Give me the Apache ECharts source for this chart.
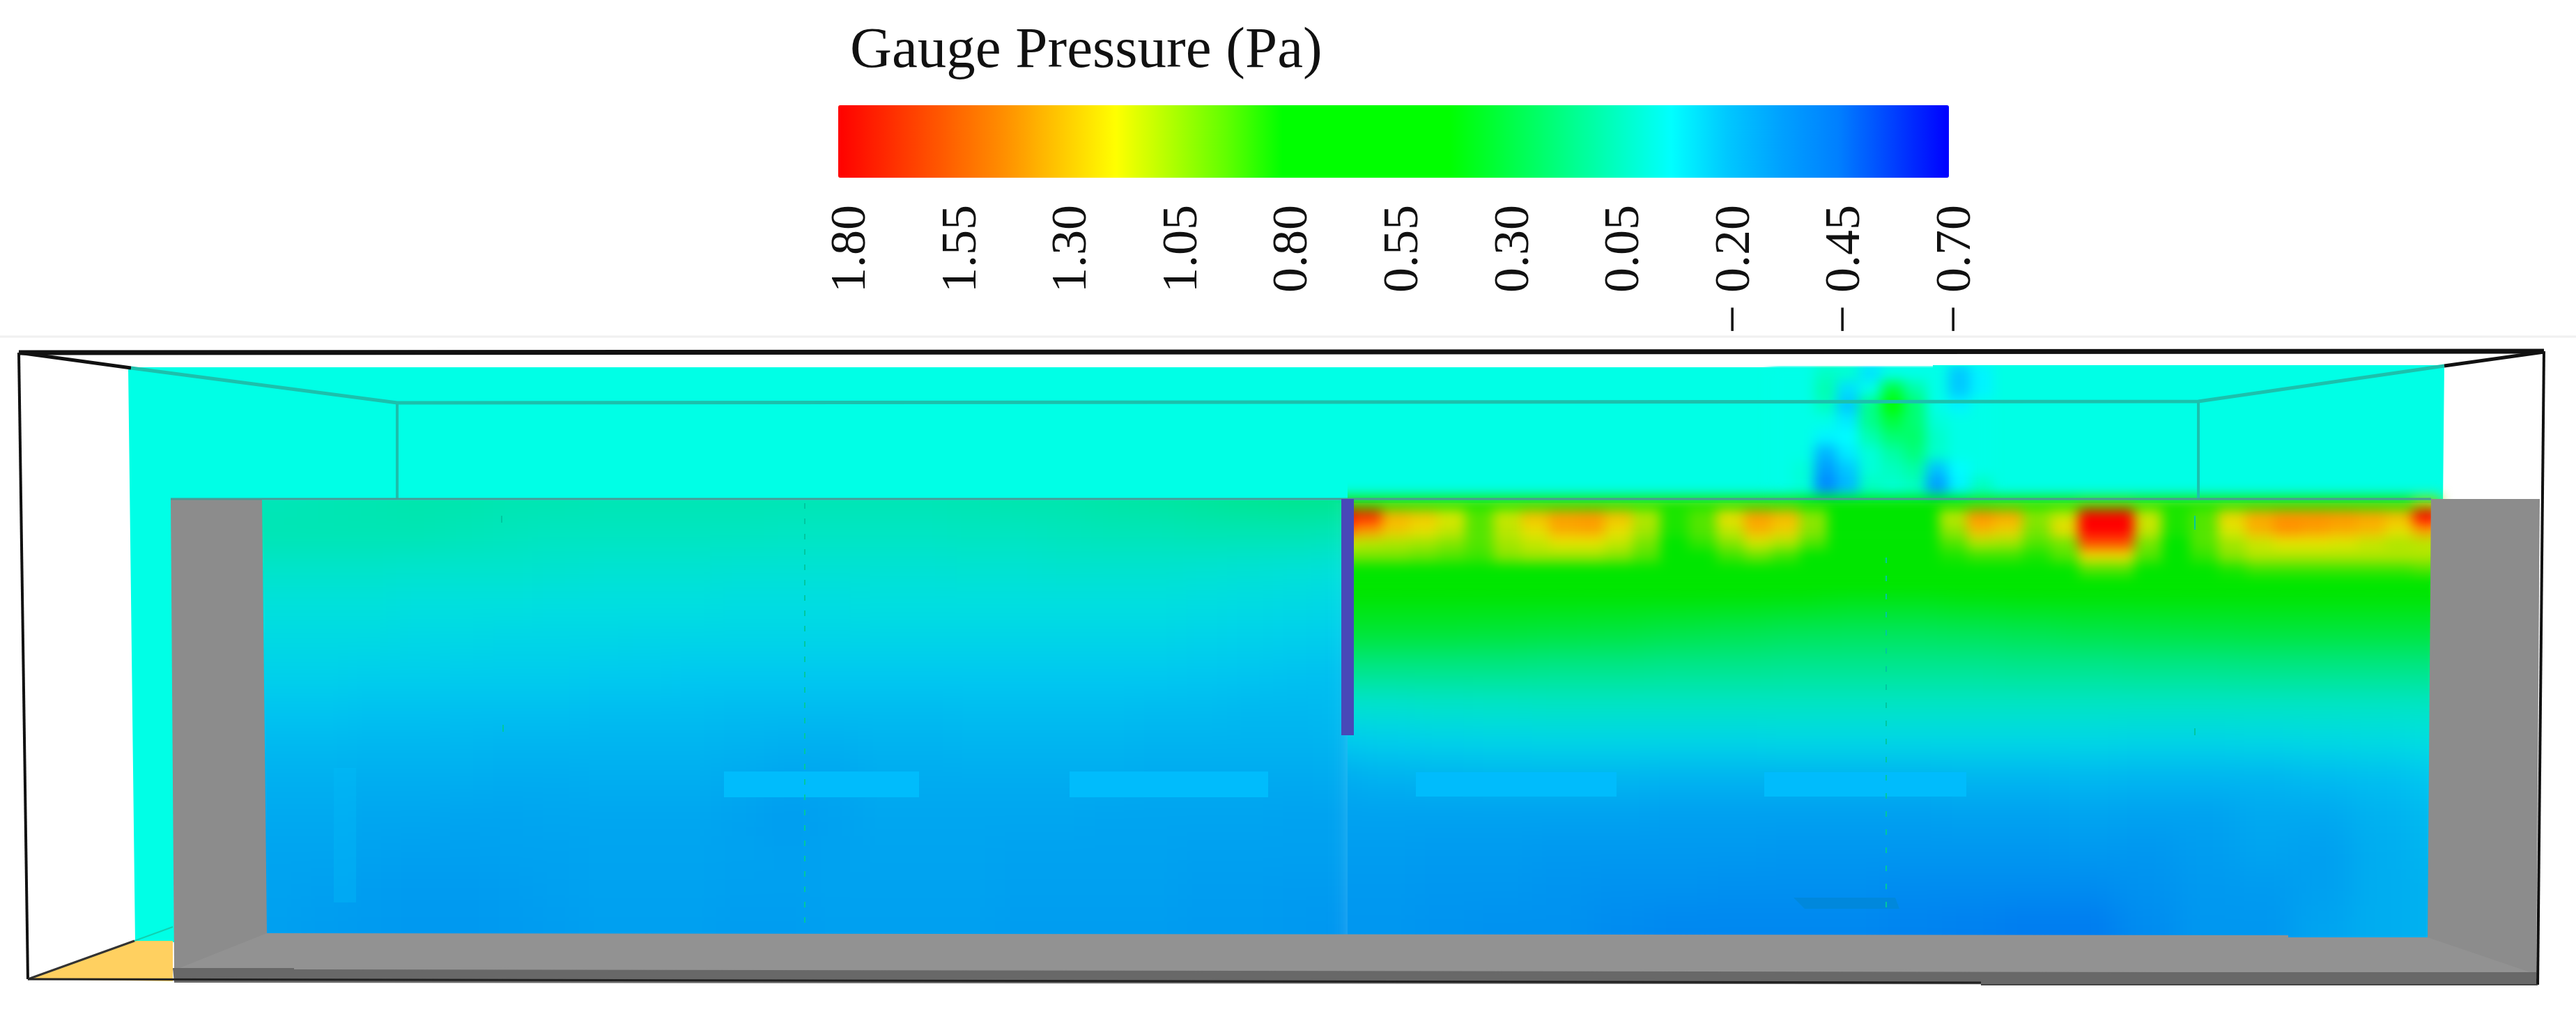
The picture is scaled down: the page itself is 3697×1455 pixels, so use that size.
<!DOCTYPE html>
<html>
<head>
<meta charset="utf-8">
<title>Gauge Pressure</title>
<script src="https://cdn.jsdelivr.net/npm/echarts@6/dist/echarts.min.js"></script>
<style>
html, body { margin:0; padding:0; background:#fff; overflow:hidden; }
.layer { position:absolute; left:0; top:0; width:3697px; height:1455px; }
#leftLayer { filter:blur(22px); clip-path:inset(718px 1763px 100px 360px); }
#lowerLayer { filter:blur(22px); clip-path:inset(718px 0 100px 1934px); }
#rightLayer { filter:blur(9px); clip-path:inset(525px 0 100px 1934px); }
</style>
</head>
<body>
<div id="base" class="layer"></div>
<div id="leftLayer" class="layer"></div>
<div id="lowerLayer" class="layer"></div>
<div id="rightLayer" class="layer"></div>
<div id="top" class="layer"></div>
<script>
var titleText = 'Gauge Pressure (Pa)';
var tickLabels = ['1.80','1.55','1.30','1.05','0.80','0.55','0.30','0.05','\u2212 0.20','\u2212 0.45','\u2212 0.70'];
var tickValues = [1.80,1.55,1.30,1.05,0.80,0.55,0.30,0.05,-0.20,-0.45,-0.70];

// colour stops, every 0.125 Pa from -0.70 up to 1.80
var barColors = ['#0000ff','#0040ff','#0080ff','#00a0ff','#00c8ff','#00ffff','#00ffc0','#00ff80','#00ff40','#00ff00','#00ff00','#00ff00','#00ff00','#60ff00','#b0ff00','#ffff00','#ffc800','#ff9000','#ff6000','#ff3000','#ff0000'];
var planeColors = ['#0000ff','#0060f0','#0090f0','#00acf0','#00c8f0','#00e0e0','#00e6c0','#00e690','#00e660','#00e630','#00e600','#00e600','#00e600','#40e600','#a0e600','#e6e600','#f8b800','#ff9000','#ff6000','#ff3000','#ff0000'];

// plume on the back wall, 10 x 8 cells
var plumeRows = [
  [-.03,-.03,.04,.02,-.14,-.03,-.03,-.03,-.2,-.1],
  [-.03,-.03,.08,-.15,-.03,.3,.1,-.03,-.2,-.1],
  [-.03,-.03,.05,-.2,.15,.5,.2,-.03,-.1,-.03],
  [-.03,-.03,-.03,-.12,.15,.3,.2,0,-.03,-.03],
  [-.03,-.03,-.1,-.08,.08,.2,.22,.03,-.03,-.03],
  [-.03,-.03,-.26,-.12,0,.1,.18,.02,-.03,-.03],
  [-.03,0,-.34,-.2,0,.05,.1,-.22,-.08,-.03],
  [-.03,0,-.42,-.25,.05,.02,.05,-.34,-.1,.05]
];

// left of the baffle, 25 x 15 cells
var leftRows = [
  [.07,.07,.08,.09,.1,.1,.09,.09,.08,.08,.08,.08,.08,.08,.08,.08,.09,.1,.1,.12,.13,.15,.17,.18,.18],
  [.07,.07,.08,.09,.1,.1,.09,.09,.08,.08,.08,.08,.08,.08,.08,.08,.09,.1,.1,.12,.13,.15,.17,.18,.18],
  [.08,.08,.08,.08,.08,.07,.06,.05,.05,.05,.05,.05,.04,.04,.04,.04,.05,.05,.06,.07,.07,.08,.08,.08,.07],
  [.01,.01,.01,.01,0,0,0,-.01,-.02,-.02,-.02,-.03,-.03,-.03,-.03,-.03,-.02,-.02,-.01,-.01,-.01,-.02,-.03,-.04,-.05],
  [-.06,-.06,-.06,-.06,-.07,-.07,-.07,-.08,-.08,-.08,-.08,-.09,-.09,-.09,-.08,-.08,-.08,-.08,-.08,-.08,-.08,-.09,-.1,-.11,-.12],
  [-.11,-.11,-.11,-.11,-.12,-.12,-.13,-.13,-.13,-.14,-.14,-.14,-.14,-.14,-.14,-.14,-.14,-.14,-.14,-.14,-.14,-.15,-.16,-.17,-.18],
  [-.16,-.16,-.16,-.17,-.17,-.18,-.18,-.18,-.19,-.19,-.2,-.2,-.2,-.2,-.2,-.2,-.2,-.2,-.2,-.2,-.2,-.21,-.22,-.23,-.24],
  [-.22,-.22,-.22,-.23,-.23,-.24,-.24,-.24,-.25,-.25,-.25,-.26,-.26,-.26,-.26,-.26,-.25,-.25,-.25,-.25,-.26,-.26,-.27,-.27,-.26],
  [-.26,-.27,-.27,-.28,-.28,-.28,-.29,-.29,-.29,-.29,-.29,-.3,-.31,-.31,-.3,-.3,-.29,-.29,-.29,-.29,-.3,-.3,-.3,-.3,-.29],
  [-.3,-.31,-.31,-.32,-.32,-.32,-.33,-.33,-.32,-.32,-.32,-.34,-.36,-.35,-.33,-.33,-.33,-.33,-.33,-.33,-.34,-.34,-.34,-.34,-.33],
  [-.33,-.34,-.34,-.35,-.35,-.36,-.36,-.35,-.35,-.35,-.35,-.37,-.39,-.37,-.35,-.35,-.35,-.35,-.35,-.36,-.36,-.36,-.36,-.37,-.37],
  [-.35,-.36,-.36,-.37,-.38,-.38,-.37,-.37,-.36,-.36,-.36,-.37,-.38,-.37,-.36,-.36,-.36,-.37,-.37,-.37,-.37,-.38,-.38,-.38,-.38],
  [-.36,-.37,-.38,-.39,-.4,-.4,-.39,-.38,-.37,-.37,-.37,-.38,-.38,-.37,-.37,-.37,-.37,-.38,-.38,-.38,-.38,-.39,-.39,-.4,-.4],
  [-.37,-.38,-.39,-.4,-.41,-.41,-.4,-.39,-.38,-.38,-.38,-.39,-.39,-.38,-.38,-.38,-.38,-.39,-.39,-.39,-.39,-.4,-.4,-.41,-.42],
  [-.37,-.38,-.39,-.4,-.41,-.41,-.4,-.39,-.38,-.38,-.38,-.39,-.39,-.38,-.38,-.38,-.38,-.39,-.39,-.39,-.39,-.4,-.4,-.41,-.42]
];

// hot band right of the baffle, 40 x 7 cells
var hotRows = [
  [.85,.85,.85,.85,.85,.85,.85,.85,.85,.85,.85,.85,.85,.85,.85,.85,.85,.8,.6,.7,.75,.7,.8,.85,.85,.85,.85,.9,.9,.85,.85,.85,.85,.85,.85,.85,.85,.85,.85,1],
  [1.8,1.7,1.32,1.26,1.15,.95,1.12,1.28,1.38,1.4,1.28,1.08,.85,.95,1.2,1.38,1.3,1.02,.6,.7,.7,.75,1.1,1.42,1.35,1.02,1.12,1.9,1.9,1.12,.85,.95,1.22,1.35,1.42,1.42,1.4,1.36,1.3,1.9],
  [1.6,1.42,1.26,1.2,1.12,.95,1.1,1.2,1.34,1.36,1.2,1.06,.85,.95,1.12,1.32,1.24,1.02,.6,.7,.7,.75,1.04,1.3,1.24,1,1.2,1.9,1.9,1.12,.85,.95,1.16,1.32,1.42,1.38,1.34,1.3,1.2,1.4],
  [1.15,1.1,1.08,1.06,1.02,.95,1.06,1.12,1.18,1.18,1.12,1,.8,.9,1.02,1.14,1.08,.95,.65,.7,.7,.75,.95,1.08,1.06,.95,1,1.6,1.6,1,.8,.95,1.06,1.13,1.18,1.18,1.16,1.12,1.08,1.1],
  [1,1,1,.98,.95,.92,1.02,1.05,1.05,1.05,1.02,.95,.75,.8,.92,.98,.92,.8,.65,.7,.7,.72,.85,.92,.92,.85,.95,1.2,1.2,.95,.75,.9,1.02,1.08,1.08,1.08,1.08,1.08,1.08,1.08],
  [.8,.8,.8,.78,.75,.75,.78,.8,.8,.8,.78,.75,.7,.7,.7,.7,.7,.7,.7,.7,.7,.7,.7,.7,.7,.72,.78,.95,.95,.78,.72,.78,.85,.92,.92,.92,.92,.92,.92,.95],
  [.72,.72,.72,.72,.7,.7,.72,.72,.72,.72,.72,.7,.7,.7,.7,.7,.7,.7,.7,.7,.7,.7,.7,.7,.7,.7,.7,.76,.76,.7,.7,.7,.72,.76,.76,.76,.76,.76,.76,.78]
];

// lower part right of the baffle, 20 x 12 cells
var lowerRows = [
  [.68,.68,.68,.68,.68,.68,.68,.68,.68,.68,.68,.68,.68,.68,.68,.68,.68,.68,.68,.68],
  [.64,.64,.63,.62,.61,.6,.58,.56,.54,.52,.52,.54,.56,.58,.6,.6,.6,.6,.6,.6],
  [.42,.42,.42,.41,.4,.39,.37,.35,.33,.32,.32,.33,.35,.37,.38,.39,.4,.4,.4,.4],
  [.2,.2,.2,.2,.19,.19,.18,.18,.17,.17,.17,.17,.18,.18,.19,.19,.2,.2,.2,.2],
  [-.02,-.01,.01,.02,.03,.03,.03,.03,.03,.03,.03,.03,.03,.03,.03,.03,.03,.03,.03,.04],
  [-.2,-.17,-.15,-.14,-.13,-.13,-.13,-.13,-.12,-.12,-.12,-.12,-.12,-.12,-.13,-.13,-.12,-.11,-.1,-.08],
  [-.33,-.3,-.29,-.28,-.28,-.28,-.29,-.29,-.29,-.29,-.29,-.28,-.28,-.27,-.28,-.28,-.28,-.26,-.24,-.2],
  [-.37,-.37,-.37,-.37,-.37,-.37,-.38,-.38,-.38,-.38,-.38,-.37,-.37,-.36,-.37,-.37,-.34,-.34,-.3,-.26],
  [-.39,-.39,-.4,-.4,-.41,-.41,-.41,-.41,-.42,-.42,-.42,-.42,-.42,-.41,-.42,-.39,-.36,-.38,-.32,-.28],
  [-.41,-.41,-.42,-.42,-.43,-.44,-.44,-.45,-.45,-.45,-.46,-.46,-.46,-.46,-.44,-.41,-.4,-.38,-.32,-.3],
  [-.42,-.42,-.43,-.44,-.44,-.46,-.47,-.47,-.47,-.47,-.48,-.49,-.5,-.5,-.46,-.42,-.42,-.36,-.32,-.3],
  [-.42,-.42,-.43,-.44,-.44,-.46,-.47,-.47,-.47,-.47,-.48,-.49,-.5,-.5,-.46,-.42,-.42,-.36,-.32,-.3]
];

function cells(rows) {
  var out = [];
  rows.forEach(function (row, r) {
    row.forEach(function (v, c) { out.push([c, r, v]); });
  });
  return out;
}
function idx(n) {
  var a = [];
  for (var i = 0; i < n; i++) a.push(i);
  return a;
}
// one grid + hidden category axes + heatmap per field block
function heatOption(blocks, maps) {
  var opt = { animation:false, grid:[], xAxis:[], yAxis:[], series:[], visualMap:maps };
  blocks.forEach(function (b, i) {
    opt.grid.push({ left:b.left, top:b.top, width:b.width, height:b.height });
    opt.xAxis.push({ type:'category', show:false, gridIndex:i, data:idx(b.rows[0].length) });
    opt.yAxis.push({ type:'category', show:false, gridIndex:i, inverse:true, data:idx(b.rows.length) });
    opt.series.push({ type:'heatmap', xAxisIndex:i, yAxisIndex:i, data:cells(b.rows), progressive:0, silent:true });
  });
  return opt;
}
function colorMap(colors, series) {
  return { type:'continuous', show:false, min:-0.7, max:1.8, dimension:2, seriesIndex:series, inRange:{ color:colors } };
}
function poly(points, fill) {
  return { type:'polygon', silent:true, shape:{ points:points }, style:{ fill:fill } };
}
function seg(points, color, width, dash) {
  return { type:'polyline', silent:true, shape:{ points:points }, style:{ stroke:color, lineWidth:width, fill:null, lineDash:dash || null } };
}

var base = echarts.init(document.getElementById('base'));
base.setOption({
  animation:false,
  graphic:[
    seg([[0,483],[3697,483]], '#f0f0f0', 3),
    poly([[184,527],[2774,527],[2774,524],[3508,524],[3506,722],[248,722],[250,1352],[194,1352]], '#00ffe6')
  ]
});

var leftChart = echarts.init(document.getElementById('leftLayer'));
leftChart.setOption(heatOption([
  { left:300, top:639, width:1660, height:765, rows:leftRows }
], [colorMap(planeColors, [0])]));

var lowerChart = echarts.init(document.getElementById('lowerLayer'));
lowerChart.setOption(heatOption([
  { left:1863, top:774, width:1680, height:631, rows:lowerRows }
], [colorMap(planeColors, [0])]));

var rightChart = echarts.init(document.getElementById('rightLayer'));
rightChart.setOption(heatOption([
  { left:2540, top:524, width:320, height:184, rows:plumeRows },
  { left:1903, top:712, width:1600, height:134, rows:hotRows }
], [colorMap(barColors, [0]), colorMap(planeColors, [1])]));

var topChart = echarts.init(document.getElementById('top'));
topChart.setOption({
  animation:false,
  title:{ text:titleText, left:1220, top:33, padding:0, textStyle:{ fontFamily:'Liberation Serif', fontSize:83, fontWeight:'normal', color:'#111' } },
  grid:{ left:1222, top:0, width:1586, height:290 },
  xAxis:{
    type:'category', data:tickLabels, boundaryGap:false,
    axisLine:{ show:false }, axisTick:{ show:false },
    axisLabel:{ interval:0, rotate:90, margin:4, fontFamily:'Liberation Serif', fontSize:72, color:'#111' }
  },
  yAxis:{ type:'value', show:false, min:-1, max:2 },
  visualMap:{
    type:'continuous', min:-0.7, max:1.8, inverse:true, orient:'horizontal',
    left:1203, top:151, padding:0, itemWidth:104, itemHeight:1594,
    calculable:false, showLabel:false, hoverLink:false, text:null, seriesIndex:0,
    inRange:{ color:barColors }
  },
  series:[{ type:'line', data:tickValues, symbol:'none', lineStyle:{ width:0 }, silent:true }],
  graphic:[
    // floor and side walls of the room
    poly([[376,1339],[3284,1342],[3284,1345],[3491,1345],[3644,1398],[244,1392]], '#929292'),
    poly([[245,716],[376,716],[383,1339],[250,1392]], '#8c8c8c'),
    poly([[3489,716],[3645,716],[3640,1398],[3484,1345]], '#8c8c8c'),
    poly([[248,1389],[422,1389],[422,1391],[3104,1395],[3640,1395],[3640,1413],[250,1410]], '#686868'),
    poly([[40,1405],[193,1350],[248,1350],[248,1408]], '#ffd060'),
    seg([[193,1350],[248,1330]], '#10d0b0', 2),
    // lines on the far wall
    seg([[188,528],[570,578],[3155,576],[3508,525]], '#1cc0ac', 5),
    seg([[570,578],[570,716]], '#1cc0ac', 4),
    seg([[3155,576],[3155,716]], '#1cc0ac', 4),
    seg([[245,716],[3489,716]], '#4a9a94', 3),
    // diffusers and small patches seen through the plane
    poly([[1039,1107],[1319,1107],[1319,1144],[1039,1144]], '#00bcfc'),
    poly([[1535,1107],[1820,1107],[1820,1144],[1535,1144]], '#00bcfc'),
    poly([[2032,1108],[2320,1108],[2320,1143],[2032,1143]], '#00bcfc'),
    poly([[2532,1108],[2822,1108],[2822,1143],[2532,1143]], '#00bcfc'),
    poly([[479,1102],[511,1102],[511,1295],[479,1295]], 'rgba(0,190,250,0.35)'),
    poly([[2574,1288],[2720,1288],[2726,1304],[2590,1304]], '#0088dc'),
    seg([[1155,722],[1155,1325]], '#00c8a0', 2, [8, 14]),
    seg([[720,740],[720,750]], '#00c8a0', 2),
    seg([[722,1040],[722,1050]], '#00c8a0', 2),
    seg([[2707,800],[2707,1310]], '#00c8a0', 2, [8, 18]),
    seg([[3150,740],[3150,760]], '#00c8a0', 2),
    seg([[3150,1045],[3150,1055]], '#00c8a0', 2),
    // baffle
    poly([[1925,716],[1943,716],[1943,1055],[1925,1055]], '#4848b8'),
    // outer box
    seg([[27,506],[3651,504]], '#111', 7),
    seg([[27,506],[40,1405]], '#111', 4),
    seg([[3651,504],[3642,1413]], '#111', 4),
    seg([[27,506],[188,528]], '#111', 5),
    seg([[3651,505],[3508,525]], '#111', 5),
    seg([[40,1405],[193,1350]], '#333', 3),
    seg([[40,1405],[2843,1410]], '#222', 3),
    seg([[2843,1413],[3642,1413]], '#444', 2)
  ]
});
</script>
</body>
</html>
